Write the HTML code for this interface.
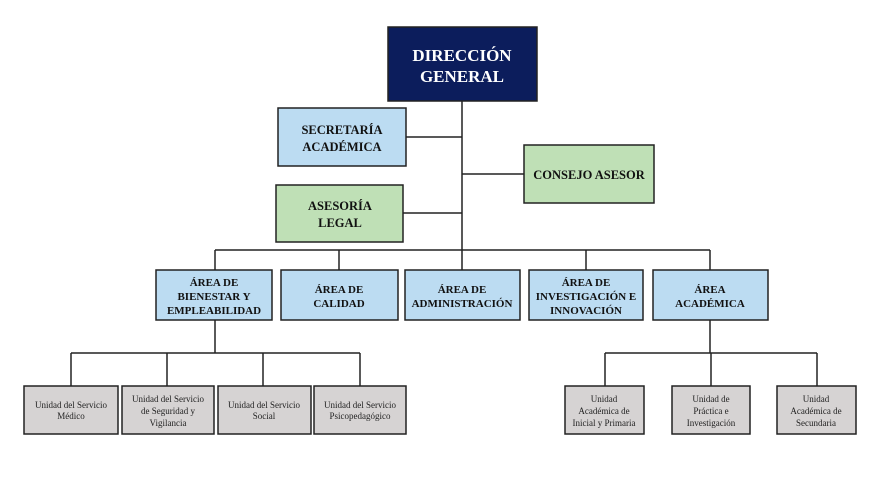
<!DOCTYPE html>
<html><head><meta charset="utf-8"><style>
html,body{margin:0;padding:0;background:#fff;}
svg{display:block;}
.b{font-family:"Liberation Serif",serif;font-weight:bold;fill:#111;text-anchor:middle;}
.w{font-family:"Liberation Serif",serif;font-weight:bold;fill:#fff;text-anchor:middle;}
.s{font-family:"Liberation Serif",serif;fill:#222;text-anchor:middle;font-size:9px;}
</style></head><body>
<svg width="886" height="498" viewBox="0 0 886 498">
<g stroke="#222" stroke-width="1.5" fill="none">
<line x1="462" y1="101" x2="462" y2="270"/>
<line x1="406" y1="137" x2="462" y2="137"/>
<line x1="462" y1="174" x2="524" y2="174"/>
<line x1="403" y1="213" x2="462" y2="213"/>
<line x1="215" y1="250" x2="710" y2="250"/>
<line x1="215" y1="250" x2="215" y2="270"/>
<line x1="339" y1="250" x2="339" y2="270"/>
<line x1="586" y1="250" x2="586" y2="270"/>
<line x1="710" y1="250" x2="710" y2="270"/>
<line x1="215" y1="320" x2="215" y2="353"/>
<line x1="71" y1="353" x2="360" y2="353"/>
<line x1="71" y1="353" x2="71" y2="386"/>
<line x1="167" y1="353" x2="167" y2="386"/>
<line x1="263" y1="353" x2="263" y2="386"/>
<line x1="360" y1="353" x2="360" y2="386"/>
<line x1="710" y1="320" x2="710" y2="353"/>
<line x1="605" y1="353" x2="817" y2="353"/>
<line x1="605" y1="353" x2="605" y2="386"/>
<line x1="711" y1="353" x2="711" y2="386"/>
<line x1="817" y1="353" x2="817" y2="386"/>
</g>
<g stroke="#222" stroke-width="1.5">
<rect x="388" y="27" width="149" height="74" fill="#0c1d5c"/>
<rect x="278" y="108" width="128" height="58" fill="#bcdcf2"/>
<rect x="524" y="145" width="130" height="58" fill="#bfe0b6"/>
<rect x="276" y="185" width="127" height="57" fill="#bfe0b6"/>
<rect x="156" y="270" width="116" height="50" fill="#bcdcf2"/>
<rect x="281" y="270" width="117" height="50" fill="#bcdcf2"/>
<rect x="405" y="270" width="115" height="50" fill="#bcdcf2"/>
<rect x="529" y="270" width="114" height="50" fill="#bcdcf2"/>
<rect x="653" y="270" width="115" height="50" fill="#bcdcf2"/>
<rect x="24" y="386" width="94" height="48" fill="#d6d3d3"/>
<rect x="122" y="386" width="92" height="48" fill="#d6d3d3"/>
<rect x="218" y="386" width="93" height="48" fill="#d6d3d3"/>
<rect x="314" y="386" width="92" height="48" fill="#d6d3d3"/>
<rect x="565" y="386" width="79" height="48" fill="#d6d3d3"/>
<rect x="672" y="386" width="78" height="48" fill="#d6d3d3"/>
<rect x="777" y="386" width="79" height="48" fill="#d6d3d3"/>
</g>
<text class="w" font-size="17"><tspan x="462" y="61">DIRECCIÓN</tspan><tspan x="462" y="82">GENERAL</tspan></text>
<text class="b" font-size="12.5"><tspan x="342" y="134">SECRETARÍA</tspan><tspan x="342" y="151">ACADÉMICA</tspan></text>
<text class="b" font-size="12.5"><tspan x="589" y="179">CONSEJO ASESOR</tspan></text>
<text class="b" font-size="12.5"><tspan x="340" y="210">ASESORÍA</tspan><tspan x="340" y="227">LEGAL</tspan></text>
<g font-size="11">
<text class="b" font-size="11"><tspan x="214" y="286">ÁREA DE</tspan><tspan x="214" y="300">BIENESTAR Y</tspan><tspan x="214" y="314">EMPLEABILIDAD</tspan></text>
<text class="b" font-size="11"><tspan x="339" y="293">ÁREA DE</tspan><tspan x="339" y="307">CALIDAD</tspan></text>
<text class="b" font-size="11"><tspan x="462" y="293">ÁREA DE</tspan><tspan x="462" y="307">ADMINISTRACIÓN</tspan></text>
<text class="b" font-size="11"><tspan x="586" y="286">ÁREA DE</tspan><tspan x="586" y="300">INVESTIGACIÓN E</tspan><tspan x="586" y="314">INNOVACIÓN</tspan></text>
<text class="b" font-size="11"><tspan x="710" y="293">ÁREA</tspan><tspan x="710" y="307">ACADÉMICA</tspan></text>
</g>
<text class="s"><tspan x="71" y="408">Unidad del Servicio</tspan><tspan x="71" y="419">Médico</tspan></text>
<text class="s"><tspan x="168" y="402">Unidad del Servicio</tspan><tspan x="168" y="414">de Seguridad y</tspan><tspan x="168" y="426">Vigilancia</tspan></text>
<text class="s"><tspan x="264" y="408">Unidad del Servicio</tspan><tspan x="264" y="419">Social</tspan></text>
<text class="s"><tspan x="360" y="408">Unidad del Servicio</tspan><tspan x="360" y="419">Psicopedagógico</tspan></text>
<text class="s"><tspan x="604" y="402">Unidad</tspan><tspan x="604" y="414">Académica de</tspan><tspan x="604" y="426">Inicial y Primaria</tspan></text>
<text class="s"><tspan x="711" y="402">Unidad  de</tspan><tspan x="711" y="414">Práctica e</tspan><tspan x="711" y="426">Investigación</tspan></text>
<text class="s"><tspan x="816" y="402">Unidad</tspan><tspan x="816" y="414">Académica de</tspan><tspan x="816" y="426">Secundaria</tspan></text>
</svg>
</body></html>
